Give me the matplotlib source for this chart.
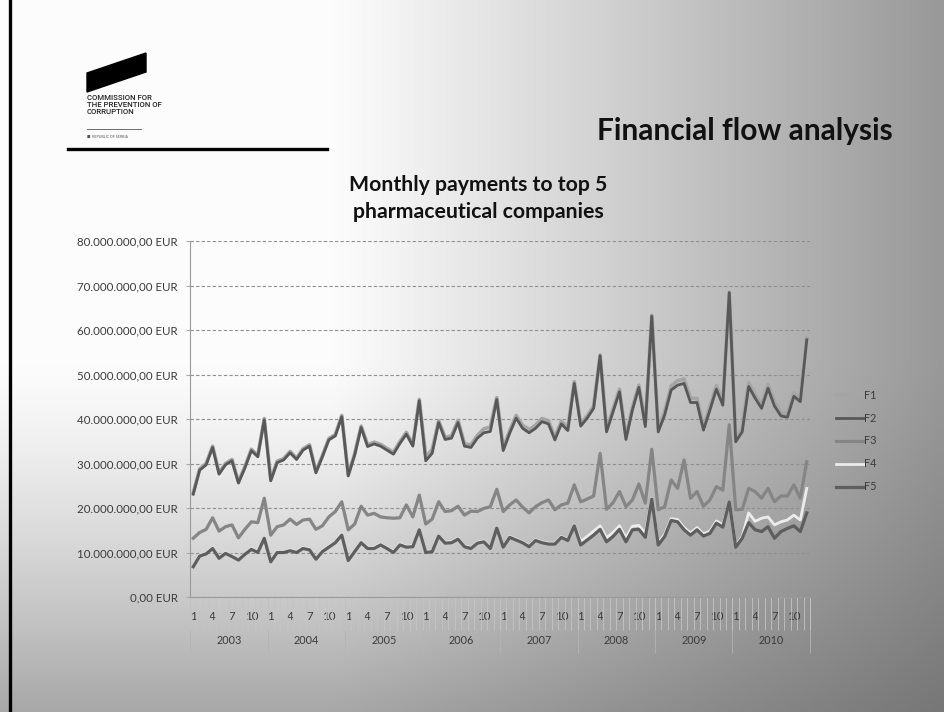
import numpy as np
import matplotlib
matplotlib.use("Agg")
import matplotlib.pyplot as plt
from matplotlib.patches import Polygon
from matplotlib.lines import Line2D

# ---------------- data (EUR millions) ----------------
years = ["2003", "2004", "2005", "2006", "2007", "2008", "2009", "2010"]
month_labels = ["1", "", "", "4", "", "", "7", "", "", "10", "", ""]
series_names = ["F1", "F2", "F3", "F4", "F5"]

f1 = [23.4, 28.8, 30.0, 33.9, 27.9, 30.0, 30.9, 25.9, 29.3, 33.2, 31.8, 40.1,
      26.4, 30.5, 31.1, 32.7, 31.2, 33.3, 34.2, 28.2, 31.8, 35.6, 36.5, 40.8,
      27.5, 32.2, 38.4, 34.2, 34.8, 34.3, 33.4, 32.5, 34.9, 37.0, 34.3, 44.4,
      31.6, 33.1, 39.6, 35.9, 36.2, 39.7, 34.4, 34.2, 36.3, 37.8, 38.2, 44.8,
      33.5, 37.4, 40.8, 38.6, 37.6, 38.6, 40.1, 39.6, 35.9, 39.5, 38.0, 48.4,
      38.9, 40.7, 42.9, 54.4, 37.7, 42.2, 46.7, 36.0, 42.6, 47.6, 38.9, 63.3,
      37.8, 41.7, 47.4, 48.6, 49.0, 44.7, 44.6, 38.2, 42.8, 47.5, 43.9, 68.5,
      35.5, 37.9, 48.1, 45.5, 43.2, 47.7, 43.7, 41.5, 41.2, 45.9, 44.7, 58.2]

f2 = [23.1, 28.5, 29.7, 33.6, 27.6, 29.7, 30.6, 25.6, 29.0, 32.9, 31.5, 39.8,
      26.1, 30.2, 30.8, 32.4, 30.9, 33.0, 33.9, 27.9, 31.5, 35.3, 36.2, 40.5,
      27.2, 31.9, 38.1, 33.8, 34.4, 33.9, 33.0, 32.1, 34.5, 36.6, 33.9, 44.1,
      30.6, 32.3, 39.2, 35.4, 35.7, 39.2, 33.9, 33.6, 35.7, 36.9, 37.2, 44.4,
      32.9, 36.8, 40.2, 37.9, 36.9, 37.9, 39.4, 38.9, 35.3, 38.9, 37.4, 48.0,
      38.4, 40.2, 42.4, 54.2, 37.1, 41.6, 46.1, 35.4, 42.0, 47.1, 38.3, 63.1,
      37.1, 40.9, 46.5, 47.6, 48.0, 43.7, 43.7, 37.5, 42.0, 46.7, 43.1, 68.4,
      34.9, 37.1, 47.3, 44.7, 42.4, 46.9, 42.9, 40.7, 40.4, 45.1, 43.9, 57.8]

f3 = [13.2, 14.5, 15.2, 17.8, 14.8, 15.8, 16.2, 13.3, 15.2, 16.9, 16.7, 22.2,
      13.9, 15.8, 16.2, 17.5, 16.3, 17.3, 17.5, 15.2, 16.0, 18.0, 19.2, 21.4,
      15.1, 16.4, 20.4, 18.4, 18.8, 18.0, 17.8, 17.7, 17.8, 20.7, 18.0, 22.9,
      16.4, 17.5, 21.4, 19.2, 19.4, 20.4, 18.4, 19.3, 19.2, 19.9, 20.3, 24.2,
      19.2, 20.7, 21.8, 20.2, 18.9, 20.3, 21.2, 21.8, 19.6, 20.7, 21.1, 25.2,
      21.4, 22.0, 22.7, 32.3, 19.7, 21.2, 23.7, 20.3, 21.8, 25.4, 21.1, 33.2,
      19.6, 20.3, 26.3, 24.4, 30.8, 22.2, 23.7, 20.4, 21.8, 24.8, 24.0, 38.7,
      19.6, 19.7, 24.4, 23.7, 22.2, 24.4, 21.4, 22.7, 22.7, 25.2, 22.2, 30.4]

f4 = [7.0, 9.4, 9.9, 11.1, 8.9, 10.0, 9.3, 8.5, 9.8, 10.9, 10.2, 13.4,
      8.1, 10.2, 10.2, 10.6, 10.2, 11.1, 10.8, 8.7, 10.4, 11.4, 12.4, 14.1,
      8.4, 10.4, 12.4, 11.1, 11.1, 11.9, 11.1, 10.2, 11.9, 11.4, 11.5, 15.3,
      10.2, 10.4, 13.9, 12.3, 12.4, 13.2, 11.5, 11.1, 12.3, 12.6, 11.1, 15.7,
      11.4, 13.6, 13.0, 12.4, 11.5, 12.9, 12.4, 12.1, 12.1, 13.6, 12.9, 16.2,
      12.5, 13.6, 14.8, 16.0, 13.3, 14.5, 16.0, 13.3, 15.9, 16.1, 14.3, 22.2,
      12.2, 14.1, 17.6, 17.4, 15.6, 14.4, 15.6, 14.2, 14.8, 17.1, 16.2, 21.5,
      11.4, 13.6, 18.9, 17.0, 17.7, 18.0, 16.2, 16.9, 17.3, 18.4, 17.3, 24.4]

f5 = [6.8, 9.2, 9.7, 10.9, 8.7, 9.8, 9.1, 8.3, 9.6, 10.7, 10.0, 13.2,
      7.9, 10.0, 10.0, 10.4, 10.0, 10.9, 10.6, 8.5, 10.2, 11.2, 12.2, 13.9,
      8.2, 10.2, 12.2, 10.9, 10.9, 11.7, 10.9, 10.0, 11.7, 11.2, 11.3, 15.1,
      10.0, 10.2, 13.7, 12.1, 12.2, 13.0, 11.3, 10.9, 12.1, 12.4, 10.9, 15.5,
      11.2, 13.4, 12.8, 12.2, 11.3, 12.7, 12.2, 11.9, 11.9, 13.4, 12.7, 16.0,
      11.7, 12.8, 13.9, 15.2, 12.4, 13.6, 15.2, 12.4, 15.1, 15.2, 13.4, 22.0,
      11.7, 13.6, 17.2, 16.9, 15.1, 13.9, 15.1, 13.7, 14.3, 16.6, 15.7, 21.4,
      11.2, 13.2, 16.7, 15.1, 14.7, 15.8, 13.2, 14.7, 15.4, 16.0, 14.7, 18.9]

y_ticks = [0, 10, 20, 30, 40, 50, 60, 70, 80]

# ---------------- figure ----------------
W, H = 944, 712
fig = plt.figure(figsize=(W / 100, H / 100), dpi=100)
plt.rcParams['font.family'] = ['Lato', 'DejaVu Sans']

# slide background gradient
bg = fig.add_axes([0, 0, 1, 1], zorder=-10)
xx, yy = np.meshgrid(np.linspace(0, W, 472), np.linspace(0, H, 356))
hx = np.clip((xx - 330) / 610, 0, 1) ** 1.05
hy = np.clip((yy - 360) / 350, 0, 1) ** 1.3
g = 0.99 - 0.39 * hx - 0.33 * hy * (1 - 0.6 * hx)
g = np.clip(g, 0, 1)
bg.imshow(np.dstack([g, g, g]), extent=[0, W, H, 0], aspect='auto', interpolation='bilinear')
bg.set_xlim(0, W)
bg.set_ylim(H, 0)
bg.axis('off')

def fx(px):
    return px / W

def fy(py):
    return 1 - py / H

# left black bar
fig.add_artist(Line2D([fx(9.5), fx(9.5)], [0, 1], color='black', lw=2.4))
# logo
fig.add_artist(Polygon([[fx(87), fy(73)], [fx(146), fy(53)], [fx(146), fy(72)], [fx(87), fy(92)]],
                       closed=True, color='black', transform=fig.transFigure))
for i, t in enumerate(["COMMISSION FOR", "THE PREVENTION OF", "CORRUPTION"]):
    fig.text(fx(87), fy(98 + 7 * i), t, fontsize=5.6, family=['Roboto', 'DejaVu Sans'],
             color='#222222', va='center', ha='left', fontweight='medium')
fig.add_artist(Line2D([fx(87), fx(141)], [fy(129), fy(129)], color='#555555', lw=0.6))
fig.text(fx(87), fy(137), "\u25a0  REPUBLIC OF SERBIA", fontsize=2.6, color='#555555', va='center')
fig.add_artist(Line2D([fx(68), fx(327)], [fy(149), fy(149)], color='black', lw=2.4))

# titles
fig.text(fx(745), fy(131), "Financial flow analysis", fontsize=21.5, fontweight='bold',
         color='#111111', ha='center', va='center')
fig.text(fx(478), fy(185), "Monthly payments to top 5", fontsize=15.3, fontweight='bold',
         color='#111111', ha='center', va='center')
fig.text(fx(478), fy(212), "pharmaceutical companies", fontsize=15.3, fontweight='bold',
         color='#111111', ha='center', va='center')

# ---------------- chart ----------------
ax = fig.add_axes([fx(190), fy(597), fx(810) - fx(190), fy(241) - fy(597)])
ax.patch.set_alpha(0)
x = np.arange(96)
colors = ['#a5a5a5', '#585858', '#858585', '#ececec', '#5e5e5e']
widths = [2.6, 2.0, 2.3, 2.0, 2.3]
data = [f1, f2, f3, f4, f5]
for name, vals, c, w in zip(series_names, data, colors, widths):
    ax.plot(x, vals, color=c, lw=w, label=name, solid_joinstyle='round')

ax.set_xlim(-0.5, 95.5)
ax.set_ylim(0, 80)
ax.set_yticks(y_ticks)
ax.set_yticklabels([f"{v}.000.000,00 EUR" if v else "0,00 EUR" for v in y_ticks],
                   fontsize=8.3, color='#3a3a3a')
ax.tick_params(axis='y', length=3, color='#aaaaaa', pad=6)
ax.yaxis.grid(True, linestyle=(0, (3, 2)), color='#8f8f8f', lw=0.8)
ax.set_axisbelow(True)
for s in ['top', 'right']:
    ax.spines[s].set_visible(False)
ax.spines['left'].set_color('#9a9a9a')
ax.spines['bottom'].set_color('#9a9a9a')

# month level
ax.set_xticks(x)
ax.set_xticklabels(month_labels * len(years), fontsize=8.3, color='#3a3a3a')
ax.tick_params(axis='x', which='major', length=0, pad=10)
ax.set_xticks(np.arange(-0.5, 96, 1), minor=True)
ax.tick_params(axis='x', which='minor', length=24, color='#c4c4c4', width=0.6)

# year level
sec = ax.secondary_xaxis('bottom')
sec.set_xticks(np.arange(5.5, 96, 12))
sec.set_xticklabels(years, fontsize=7.8, color='#3a3a3a')
sec.tick_params(axis='x', which='major', length=0, pad=27)
sec.set_xticks(np.arange(-0.5, 96, 12), minor=True)
sec.tick_params(axis='x', which='minor', length=40, color='#b4b4b4', width=0.6)
sec.spines['bottom'].set_visible(False)

fig.legend(loc='center left', bbox_to_anchor=(fx(826), fy(441)), frameon=False,
           fontsize=7.8, handlelength=2.6, handletextpad=0.05, labelspacing=1.1,
           labelcolor='#3a3a3a')

fig.savefig("out.png", dpi=100)
